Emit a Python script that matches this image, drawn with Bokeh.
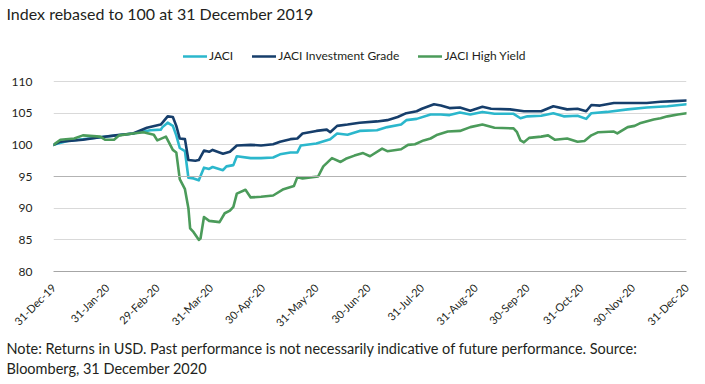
import math
import pandas as pd
from bokeh.plotting import figure
from bokeh.models import (Range1d, FixedTicker, DatetimeTickFormatter, Legend,
                          LegendItem, Title, Span)
from bokeh.embed import file_html
from bokeh.resources import INLINE

BASE_DATE = "2019-12-31"
END_DATE = "2020-12-31"

# JACI (days after 31-Dec-2019, index value)
jaci_days = [0, 8, 27, 46, 56, 62, 63, 66, 69, 71, 73, 76, 78, 81, 84, 87, 90, 92, 98, 100,
             104, 106, 114, 120, 127, 131, 137, 141, 143, 152, 160, 164, 170, 177, 187, 193,
             201, 204, 210, 218, 224, 229, 235, 241, 248, 255, 266, 270, 274, 282, 289, 295,
             303, 308, 311, 320, 332, 343, 355, 366]
jaci_vals = [100.0, 100.6, 101.2, 101.8, 102.3, 102.4, 102.8, 103.5, 103.0, 101.5, 99.5, 99.0,
             94.8, 94.7, 94.4, 96.4, 96.2, 96.5, 96.0, 96.6, 96.8, 98.2, 97.9, 97.9, 98.0, 98.5,
             98.8, 98.8, 99.9, 100.2, 100.9, 101.8, 101.6, 102.2, 102.3, 102.8, 103.2, 103.9,
             104.1, 104.8, 104.8, 104.7, 105.1, 104.8, 105.2, 104.9, 104.9, 104.2, 104.5, 104.6,
             105.0, 104.5, 104.6, 104.1, 105.0, 105.2, 105.6, 105.9, 106.1, 106.4]

# JACI Investment Grade
ig_days = [0, 4, 17, 27, 36, 46, 54, 62, 63, 66, 69, 71, 73, 76, 78, 82, 84, 87, 90, 92, 98,
           102, 106, 114, 120, 127, 131, 137, 141, 144, 152, 158, 160, 164, 170, 177, 187, 193,
           199, 204, 210, 213, 220, 224, 229, 235, 241, 248, 253, 264, 272, 282, 289, 297, 303,
           308, 311, 316, 324, 336, 343, 351, 359, 366]
ig_vals = [100.0, 100.5, 100.8, 101.2, 101.5, 101.8, 102.7, 103.2, 103.5, 104.5, 104.4, 103.0,
           101.0, 100.9, 97.6, 97.5, 97.6, 99.1, 98.9, 99.2, 98.6, 98.9, 99.9, 100.0, 99.9,
           100.1, 100.5, 100.9, 101.0, 101.8, 102.2, 102.4, 102.0, 103.0, 103.2, 103.5, 103.7,
           103.9, 104.4, 105.0, 105.3, 105.7, 106.4, 106.2, 105.8, 105.9, 105.4, 106.0, 105.7,
           105.6, 105.3, 105.3, 106.1, 105.6, 105.7, 105.3, 106.3, 106.2, 106.6, 106.6, 106.6,
           106.8, 106.9, 107.0]

# JACI High Yield
hy_days = [0, 4, 12, 17, 27, 30, 35, 38, 46, 52, 58, 60, 65, 69, 71, 73, 76, 78, 79, 81, 84,
           85, 87, 90, 96, 99, 102, 104, 106, 111, 114, 120, 127, 133, 139, 141, 144, 153, 156,
           161, 166, 169, 174, 179, 183, 190, 193, 201, 205, 209, 214, 218, 222, 228, 235, 241,
           248, 255, 266, 268, 270, 272, 275, 282, 286, 290, 297, 303, 307, 311, 315, 324, 326,
           332, 336, 339, 347, 351, 355, 361, 366]
hy_vals = [100.0, 100.8, 101.0, 101.5, 101.3, 100.8, 100.8, 101.5, 101.8, 102.0, 101.6, 100.7,
           101.3, 99.2, 98.8, 94.6, 93.0, 90.0, 86.8, 86.2, 85.0, 85.2, 88.6, 88.0, 87.8, 89.2,
           89.6, 90.2, 92.3, 92.9, 91.7, 91.8, 92.0, 93.0, 93.5, 94.9, 94.7, 95.0, 96.6, 97.9,
           97.3, 97.8, 98.3, 98.7, 98.2, 99.4, 99.0, 99.3, 100.0, 100.1, 100.7, 101.0, 101.6,
           102.1, 102.2, 102.8, 103.2, 102.7, 102.6, 102.0, 100.7, 100.4, 101.1, 101.3, 101.5,
           100.8, 101.0, 100.5, 100.6, 101.5, 102.0, 102.1, 101.8, 102.8, 103.0, 103.4, 104.0,
           104.2, 104.5, 104.8, 105.0]

series_names = ["JACI", "JACI Investment Grade", "JACI High Yield"]
series_colors = ["#2bb7cc", "#163e6b", "#4b9b5a"]

tick_dates = ["2019-12-31", "2020-01-31", "2020-02-29", "2020-03-31", "2020-04-30",
              "2020-05-31", "2020-06-30", "2020-07-31", "2020-08-31", "2020-09-30",
              "2020-10-31", "2020-11-30", "2020-12-31"]
y_ticks = [80, 85, 90, 95, 100, 105, 110]

title_text = "Index rebased to 100 at 31 December 2019"
note_line1 = ("Note: Returns in USD. Past performance is not necessarily indicative of "
              "future performance. Source:")
note_line2 = "Bloomberg, 31 December 2020"

FONT = "Lato"
TEXT = "#231f20"


def to_dates(days):
    return pd.Timestamp(BASE_DATE) + pd.to_timedelta(days, unit="D")


def ms(d):
    return pd.Timestamp(d).value / 1e6


p = figure(width=705, height=384, x_axis_type="datetime", output_backend="svg",
           toolbar_location=None,
           x_range=Range1d(ms(BASE_DATE), ms(END_DATE)),
           y_range=Range1d(80, 119.32),
           min_border_left=53, min_border_right=19, min_border_top=22,
           min_border_bottom=113)
p.outline_line_color = None
p.background_fill_color = "white"
p.border_fill_color = "white"

# axes
p.xaxis.ticker = FixedTicker(ticks=[ms(d) for d in tick_dates])
fmt = "%d-%b-%y"
p.xaxis.formatter = DatetimeTickFormatter(days=fmt, months=fmt, years=fmt, hours=fmt,
                                          minutes=fmt, seconds=fmt, context=None)
p.xaxis.major_label_orientation = math.pi / 4
p.xaxis.axis_line_color = "#a6a6a6"
p.xaxis.axis_line_width = 1
p.xaxis.major_tick_line_color = None
p.xaxis.minor_tick_line_color = None
p.xaxis.major_label_text_font = FONT
p.xaxis.major_label_text_font_size = "11px"
p.xaxis.major_label_text_color = TEXT
p.xaxis.major_label_standoff = 8
p.xgrid.grid_line_color = None

p.yaxis.ticker = FixedTicker(ticks=y_ticks)
p.yaxis.axis_line_color = None
p.yaxis.major_tick_line_color = None
p.yaxis.minor_tick_line_color = None
p.yaxis.major_label_text_font = FONT
p.yaxis.major_label_text_font_size = "12px"
p.yaxis.major_label_text_color = TEXT
p.yaxis.major_label_standoff = 15
p.ygrid.ticker = FixedTicker(ticks=y_ticks)
p.ygrid.grid_line_color = "#d9d9d9"
p.ygrid.grid_line_width = 1

p.add_layout(Span(location=95, dimension="width", line_color="#b3b3b3", line_width=1))

renderers = []
for days, vals, color in [(jaci_days, jaci_vals, series_colors[0]),
                          (ig_days, ig_vals, series_colors[1]),
                          (hy_days, hy_vals, series_colors[2])]:
    r = p.line(to_dates(days), vals, line_color=color, line_width=2.6,
               line_join="round", line_cap="round")
    renderers.append(r)

legend = Legend(items=[LegendItem(label=n, renderers=[r]) for n, r in zip(series_names, renderers)],
                orientation="horizontal", location=(130, 208),
                padding=0, margin=0, spacing=19, glyph_width=24, glyph_height=14,
                label_height=14, label_standoff=2,
                label_text_font=FONT, label_text_font_size="12px", label_text_color=TEXT,
                background_fill_alpha=0, border_line_alpha=0)
p.add_layout(legend)

p.add_layout(Title(text=title_text, align="left", offset=-47, standoff=0,
                   text_font=FONT, text_font_size="16px", text_font_style="normal",
                   text_color=TEXT), "above")
p.add_layout(Title(text=note_line1 + "\n" + note_line2, align="left", offset=-47,
                   standoff=4, text_line_height=1.2,
                   text_font=FONT, text_font_size="14.5px", text_font_style="normal",
                   text_color=TEXT), "below")

open("out.html", "w").write(file_html(p, INLINE))
